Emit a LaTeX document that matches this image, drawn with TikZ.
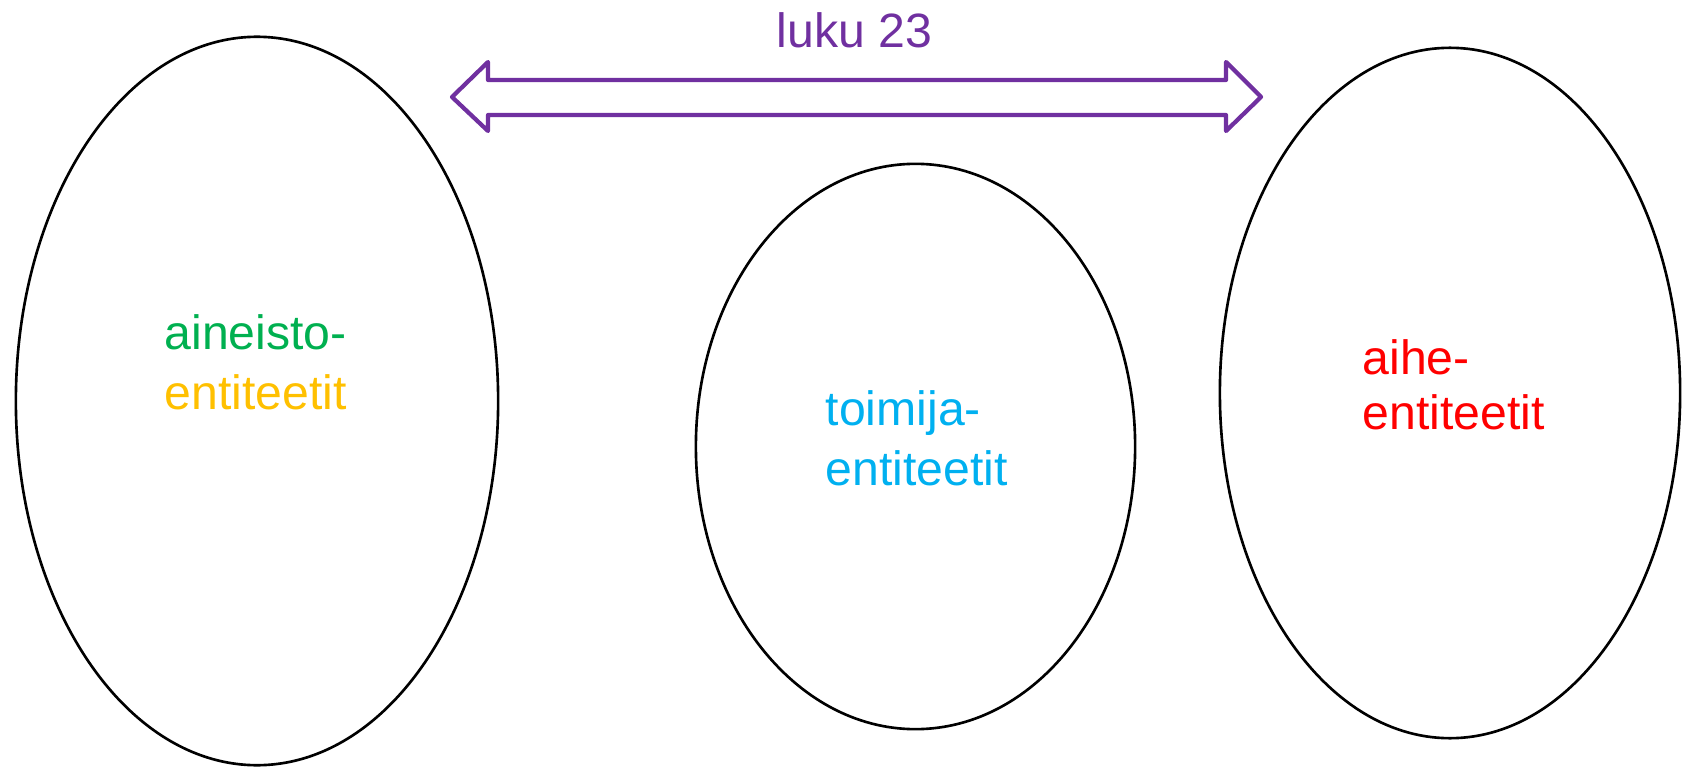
\documentclass[tikz,border=0pt]{standalone}
\usepackage{fontspec}
\setmainfont{Liberation Sans}
\usetikzlibrary{shapes.geometric}
\definecolor{lukupurple}{HTML}{7030A0}
\definecolor{aineistogreen}{HTML}{00B050}
\definecolor{entityellow}{HTML}{FFC000}
\definecolor{toimijablue}{HTML}{00B0F0}
\definecolor{aihered}{HTML}{FF0000}
\begin{document}
\begin{tikzpicture}[%
	x=0.01cm, y=-0.01cm,
	entity/.style = {shape=ellipse, draw=black, line width=0.75pt, inner sep=0pt},
	label/.style = {anchor=west, align=left, inner sep=0pt, font=\fontsize{13.7pt}{17.1pt}\selectfont},
	arrowline/.style = {draw=lukupurple, line width=1.2pt, line join=round}
	]
  \useasboundingbox (0,0) rectangle (1682,767);
  % ellipses
  \node [entity, minimum width=4.82cm, minimum height=7.28cm] (aineisto) at (257,401) {};
  \node [entity, minimum width=4.39cm, minimum height=5.65cm] (toimija) at (915.5,446.5) {};
  \node [entity, minimum width=4.60cm, minimum height=6.90cm] (aihe) at (1450,393) {};
  % texts
  \node [label] (aineistoText) at (164,362) {\color{aineistogreen}aineisto-\\\color{entityellow}entiteetit};
  \node [label, text=toimijablue] (toimijaText) at (825,438.5) {toimija-\\entiteetit};
  \node [label, text=aihered, font=\fontsize{13.7pt}{15.6pt}\selectfont] (aiheText) at (1362,385) {aihe-\\entiteetit};
  \node [anchor=base, inner sep=0pt, text=lukupurple, font=\fontsize{13.7pt}{16pt}\selectfont] (luku) at (854.5,48) {luku 23};
  % double arrow
  \draw [arrowline] (452,97) -- (488,62) -- (488,80) -- (1226,80) -- (1226,62) -- (1261,97)
		-- (1226,131) -- (1226,115) -- (488,115) -- (488,131) -- cycle;
\end{tikzpicture}
\end{document}
